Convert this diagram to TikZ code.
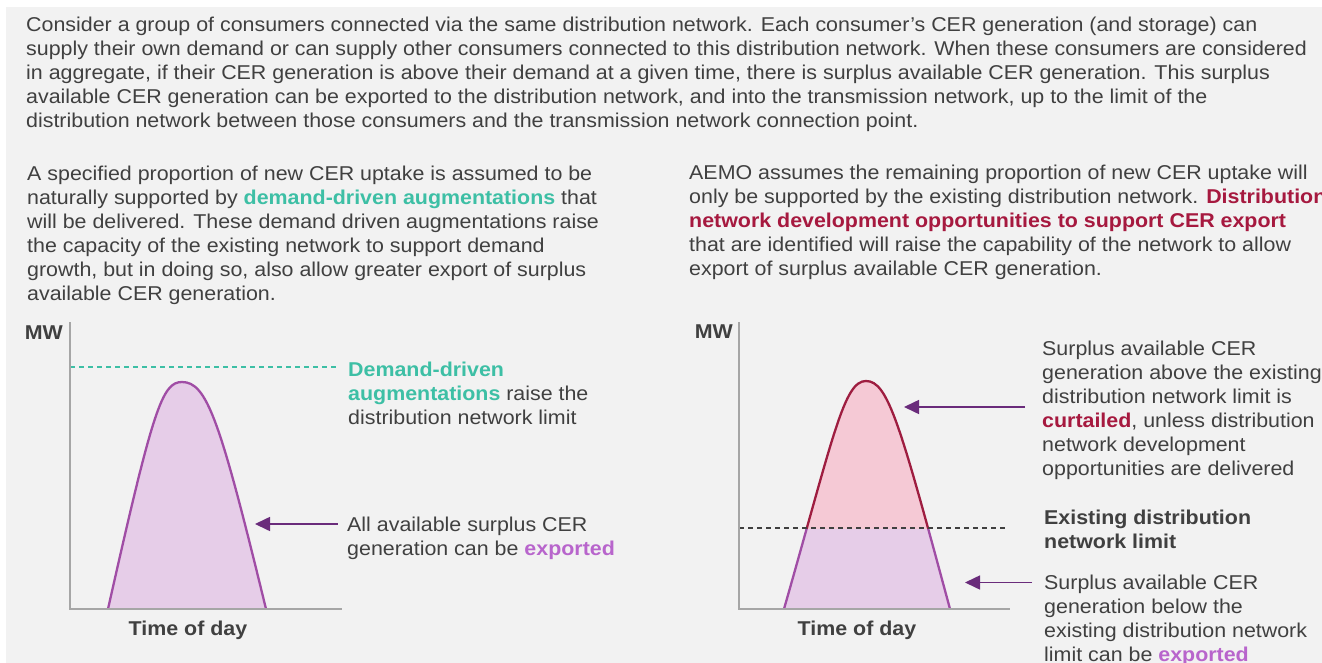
\documentclass[tikz,border=0pt]{standalone}
\usepackage{fontspec}
\setmainfont{Liberation Sans}[FakeStretch=1.07]
\usepackage{xcolor}
\usetikzlibrary{arrows.meta}

\definecolor{bggray}{HTML}{F2F2F2}
\definecolor{txtgray}{HTML}{404040}
\definecolor{axisgray}{HTML}{A6A6A6}
\definecolor{tealc}{HTML}{3DBFA5}
\definecolor{crimson}{HTML}{A6193F}
\definecolor{orchid}{HTML}{B865CC}
\definecolor{arrpurple}{HTML}{6A2C7B}
\definecolor{curvepurple}{HTML}{A04DA5}
\definecolor{lavender}{HTML}{E6CDE8}
\definecolor{pinkfill}{HTML}{F5C9D5}
\definecolor{crimsonline}{HTML}{9E1D40}

\newcommand{\hlteal}[1]{\textbf{\color{tealc}#1}}
\newcommand{\hlred}[1]{\textbf{\color{crimson}#1}}
\newcommand{\hlorchid}[1]{\textbf{\color{orchid}#1}}

\begin{document}
\begin{tikzpicture}[x=1pt, y=-1pt,
  font=\fontsize{20}{24}\selectfont, text=txtgray,
  para/.style={anchor=base west, align=left, inner sep=0pt},
  axislabel/.style={inner sep=0pt, font=\fontsize{20}{24}\selectfont\bfseries},
  axis/.style={draw=axisgray, line width=1.3pt},
  arch/.style={line width=2.3pt},
  limit/.style={dash pattern=on 5pt off 4pt, line width=1.2pt},
  arr/.style={-{Triangle[length=15pt, width=14pt]}, draw=arrpurple, line width=1.6pt}]
\useasboundingbox (0,0) rectangle (1322,663);
\fill[bggray] (6,7) rectangle (1322,663);
% --- introduction (anchored at the baseline of its last line) ---
\node[para] (intro) at (26,127.5)
  {Consider a group of consumers connected via the same distribution network. Each consumer’s CER generation (and storage) can\\
   supply their own demand or can supply other consumers connected to this distribution network. When these consumers are considered\\
   in aggregate, if their CER generation is above their demand at a given time, there is surplus available CER generation. This surplus\\
   available CER generation can be exported to the distribution network, and into the transmission network, up to the limit of the\\
   distribution network between those consumers and the transmission network connection point.};
% --- left column text ---
\node[para] (leftpara) at (27,300.5)
  {A specified proportion of new CER uptake is assumed to be\\
   naturally supported by \hlteal{demand-driven augmentations} that\\
   will be delivered. These demand driven augmentations raise\\
   the capacity of the existing network to support demand\\
   growth, but in doing so, also allow greater export of surplus\\
   available CER generation.};
% --- right column text ---
\node[para] (rightpara) at (689,275.5)
  {AEMO assumes the remaining proportion of new CER uptake will\\
   only be supported by the existing distribution network. \hlred{Distribution}\\
   \hlred{network development opportunities to support CER export}\\
   that are identified will raise the capability of the network to allow\\
   export of surplus available CER generation.};
% --- left chart ---
\def\archL{(108,609) .. controls (153,409) and (162,382) .. (182,382)
  .. controls (207,382) and (220,420) .. (266,609)}
\fill[lavender] \archL -- cycle;
\draw[arch, curvepurple] \archL;
\draw[limit, tealc] (70,367) -- (337,367);
\draw[axis] (70,322) -- (70,609) -- (342,609);
\node[axislabel, anchor=base east] (mwleft) at (63,339) {MW};
\node[axislabel, anchor=base] (timeleft) at (188,635) {Time of day};
\node[para] (raise) at (348,424)
  {\hlteal{Demand-driven}\\
   \hlteal{augmentations} raise the\\
   distribution network limit};
\node[para] (allexp) at (347,555)
  {All available surplus CER\\
   generation can be \hlorchid{exported}};
\coordinate (allexptail) at (337.5,524);
\coordinate (allexptip) at (255,524);
\draw[arr] (allexptail) -- (allexptip);
% --- right chart ---
\def\archR{(784,609) .. controls (834,434) and (844,381) .. (866,381)
  .. controls (888,381) and (900,424) .. (950,609)}
\begin{scope}
\clip (739,528) rectangle (1010,620);
\fill[lavender] \archR -- cycle;
\draw[arch, curvepurple] \archR;
\end{scope}
\begin{scope}
\clip (739,300) rectangle (1010,528);
\fill[pinkfill] \archR -- cycle;
\draw[arch, crimsonline] \archR;
\end{scope}
\draw[limit, txtgray] (739,528) -- (1006,528);
\draw[axis] (739,322) -- (739,609) -- (1010,609);
\node[axislabel, anchor=base east] (mwright) at (733,338) {MW};
\node[axislabel, anchor=base] (timeright) at (857,635) {Time of day};
\node[para] (curtail) at (1042,475)
  {Surplus available CER\\
   generation above the existing\\
   distribution network limit is\\
   \hlred{curtailed}, unless distribution\\
   network development\\
   opportunities are delivered};
\node[para, font=\fontsize{20}{24}\selectfont\bfseries] (limitlbl) at (1044,548)
  {Existing distribution\\
   network limit};
\node[para] (belowexp) at (1044,661)
  {Surplus available CER\\
   generation below the\\
   existing distribution network\\
   limit can be \hlorchid{exported}};
\coordinate (curtailtail) at (1025,407);
\coordinate (curtailtip) at (904,407);
\coordinate (belowtail) at (1032,582.5);
\coordinate (belowtip) at (965,582.5);
\draw[arr] (curtailtail) -- (curtailtip);
\draw[arr] (belowtail) -- (belowtip);
\end{tikzpicture}
\end{document}
